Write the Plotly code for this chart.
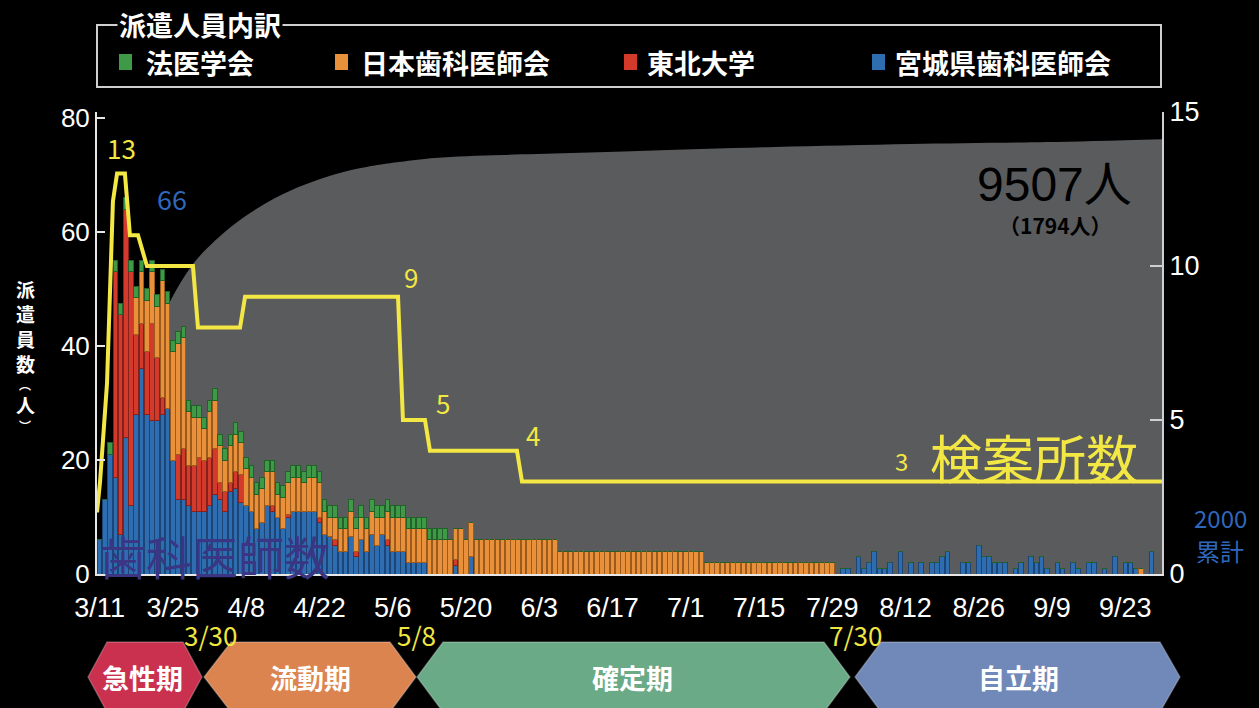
import plotly.graph_objects as go
import pandas as pd

# ---------------- data ----------------
dates = pd.date_range("2011-03-11", periods=203, freq="D")   # 3/11 ... 9/29

# 宮城県歯科医師会 (blue)
blue = [
    6, 13, 21, 17, 7, 24, 12, 28, 36, 28,
    27, 27, 28, 29, 20, 13, 13, 12, 11, 11,
    11, 12, 14, 13, 11, 14.5, 15, 12.5, 12, 11,
    8, 9, 12, 11, 10, 8, 10, 11, 11, 11,
    11, 11, 9, 7, 6.5, 5, 4, 4, 6.5, 3,
    6, 4, 7, 5, 7, 5, 4, 4, 4, 2,
    2, 2, 2, 0, 0, 0, 0, 0, 1.5, 0,
    0, 3, 0, 0, 0, 0, 0, 0, 0, 0,
    0, 0, 0, 0, 0, 0, 0, 0, 0, 0,
    0, 0, 0, 0, 0, 0, 0, 0, 0, 0,
    0, 0, 0, 0, 0, 0, 0, 0, 0, 0,
    0, 0, 0, 0, 0, 0, 0, 0, 0, 0,
    0, 0, 0, 0, 0, 0, 0, 0, 0, 0,
    0, 0, 0, 0, 0, 0, 0, 0, 0, 0,
    0, 0, 1, 1, 0, 3, 1, 2, 4, 1,
    1, 2, 0, 4, 0, 2, 0, 2, 0, 2,
    2, 3, 4, 0, 0, 2, 2, 0, 5, 3,
    3, 2, 2, 2, 0, 1, 2, 0, 3, 2,
    3, 1, 0, 2, 1, 0, 2, 1, 0, 2,
    2, 0, 1, 0, 3, 0, 2, 2, 1, 0,
    0, 4, 0,
]
# 東北大学 (red)
red = [
    0, 0, 0, 36, 38.5, 40, 41, 14, 8, 11,
    17, 11, 3, 0, 0, 8, 9, 7, 8, 9.5,
    9, 8.5, 8, 3, 3.5, 1.5, 3, 5, 0, 0,
    0, 0, 0, 1, 0, 0, 0.5, 0, 0, 0,
    0, 0, 1, 0, 0, 1, 0, 0, 0, 1,
    0, 0, 0, 0, 0, 1, 0, 0, 0, 0,
    0, 0, 0, 0, 0, 0, 0, 0, 1, 0,
    0, 0, 0, 0, 0, 0, 0, 0, 0, 0,
    0, 0, 0, 0, 0, 0, 0, 0, 0, 0,
    0, 0, 0, 0, 0, 0, 0, 0, 0, 0,
    0, 0, 0, 0, 0, 0, 0, 0, 0, 0,
    0, 0, 0, 0, 0, 0, 0, 0, 0, 0,
    0, 0, 0, 0, 0, 0, 0, 0, 0, 0,
    0, 0, 0, 0, 0, 0, 0, 0, 0, 0,
    0, 0, 0, 0, 0, 0, 0, 0, 0, 0,
    0, 0, 0, 0, 0, 0, 0, 0, 0, 0,
    0, 0, 0, 0, 0, 0, 0, 0, 0, 0,
    0, 0, 0, 0, 0, 0, 0, 0, 0, 0,
    0, 0, 0, 0, 0, 0, 0, 0, 0, 0,
    0, 0, 0, 0, 0, 0, 0, 0, 0, 0,
    0, 0, 0,
]
# 日本歯科医師会 (orange)
orange = [
    0, 0, 0, 0, 0, 0, 0, 6.5, 9, 9,
    9, 9, 20.5, 18.5, 19, 19.5, 19.5, 9.5, 8.5, 7,
    5.5, 8, 8.5, 6.5, 5.5, 6.5, 6.5, 5.5, 6.5, 6,
    6, 6, 6, 6, 4, 5.5, 5.5, 6, 6, 5,
    6, 6, 6, 4, 3.5, 4, 4, 4, 4.5, 4,
    4, 4, 4, 5, 3, 5, 6, 6, 6, 6,
    6, 6, 6, 6, 6, 6, 6, 6, 5.5, 8,
    6, 6, 6, 6, 6, 6, 6, 6, 6, 6,
    6, 6, 6, 6, 6, 6, 6, 6, 4, 4,
    4, 4, 4, 4, 4, 4, 4, 4, 4, 4,
    4, 4, 4, 4, 4, 4, 4, 4, 4, 4,
    4, 4, 4, 4, 4, 4, 2, 2, 2, 2,
    2, 2, 2, 2, 2, 2, 2, 2, 2, 2,
    2, 2, 2, 2, 2, 2, 2, 2, 2, 2,
    2, 0, 0, 0, 0, 0, 0, 0, 0, 0,
    0, 0, 0, 0, 0, 0, 0, 0, 0, 0,
    0, 0, 0, 0, 0, 0, 0, 0, 0, 0,
    0, 0, 0, 0, 0, 0, 0, 0, 0, 0,
    0, 0, 0, 0, 0, 0, 0, 0, 0, 0,
    0, 0, 0, 0, 0, 0, 0, 0, 0, 1,
    0, 0, 0,
]
# 法医学会 (green)
green = [
    0, 0, 2, 2, 2, 2, 2, 2, 2, 2,
    2, 2, 2, 2, 2, 2, 2, 2, 2, 2,
    2, 2, 2, 2, 2, 2, 2, 2, 2, 2,
    2, 2, 2, 2, 2, 2, 2, 2, 2, 2,
    2, 2, 2, 2, 2, 2, 2, 2, 2, 2,
    2, 2, 2, 2, 2, 2, 2, 2, 2, 2,
    2, 2, 2, 2, 2, 2, 2, 0, 0, 0,
    0, 0, 0, 0, 0, 0, 0, 0, 0, 0,
    0, 0, 0, 0, 0, 0, 0, 0, 0, 0,
    0, 0, 0, 0, 0, 0, 0, 0, 0, 0,
    0, 0, 0, 0, 0, 0, 0, 0, 0, 0,
    0, 0, 0, 0, 0, 0, 0, 0, 0, 0,
    0, 0, 0, 0, 0, 0, 0, 0, 0, 0,
    0, 0, 0, 0, 0, 0, 0, 0, 0, 0,
    0, 0, 0, 0, 0, 0, 0, 0, 0, 0,
    0, 0, 0, 0, 0, 0, 0, 0, 0, 0,
    0, 0, 0, 0, 0, 0, 0, 0, 0, 0,
    0, 0, 0, 0, 0, 0, 0, 0, 0, 0,
    0, 0, 0, 0, 0, 0, 0, 0, 0, 0,
    0, 0, 0, 0, 0, 0, 0, 0, 0, 0,
    0, 0, 0,
]

# 累計 (gray area)
cum_dates = ["2011-03-11", "2011-03-13", "2011-03-15", "2011-03-17", "2011-03-19",
             "2011-03-21", "2011-03-24", "2011-03-29", "2011-04-05", "2011-04-12",
             "2011-04-18", "2011-04-25", "2011-05-01", "2011-05-14", "2011-05-27",
             "2011-06-22", "2011-07-18", "2011-08-13", "2011-09-08", "2011-09-30"]
cum_vals = [0, 900, 2000, 3100, 4100, 4900, 5850, 6800, 7580, 8120,
            8460, 8740, 8900, 9094, 9160, 9248, 9334, 9400, 9444, 9507]

# 検案所数 (yellow line)
site_dates = ["2011-03-10 12:00", "2011-03-11 02:00", "2011-03-12 10:00", "2011-03-13 09:00",
              "2011-03-13 13:00", "2011-03-14 08:00", "2011-03-15 20:00", "2011-03-16 19:00",
              "2011-03-18 08:00", "2011-03-20 01:00", "2011-03-28 20:00", "2011-03-29 19:00",
              "2011-04-06 20:00", "2011-04-07 19:00", "2011-05-07 00:30", "2011-05-07 23:00",
              "2011-05-12 04:00", "2011-05-13 03:00", "2011-05-29 18:00", "2011-05-30 17:00",
              "2011-09-30 00:00"]
site_vals = [2, 3, 6.2, 10.5, 12.1, 13, 13, 11, 11, 10, 10, 8, 8, 9, 9, 5, 5, 4, 4, 3, 3]

series_names = ["宮城県歯科医師会", "東北大学", "日本歯科医師会", "法医学会"]
series_colors = ["#2e6db0", "#d33a2b", "#e8913a", "#3f9a48"]
series_edges = ["#1b4576", "#85201a", "#9c5a1c", "#22622a"]

phase_names = ["急性期", "流動期", "確定期", "自立期"]
phase_colors = ["#c9314e", "#db8450", "#6aaa86", "#7089b8"]
phase_bounds = ["3/30", "5/8", "7/30"]

# ---------------- layout helpers (pixel -> paper) ----------------
L, R, T, B = 97, 1162, 112, 574
def px(x):
    return (x - L) / (R - L)
def py(y):
    return (B - y) / (B - T)

fig = go.Figure()

fig.add_trace(go.Scatter(x=cum_dates, y=cum_vals, mode="lines", fill="tozeroy",
                         line=dict(width=0, shape="spline", smoothing=0.9),
                         fillcolor="#5a5b5d", yaxis="y", name="累計", hoverinfo="skip"))

for vals, nm, col, edge in zip([blue, red, orange, green], series_names, series_colors, series_edges):
    fig.add_trace(go.Bar(x=dates, y=vals, name=nm, marker=dict(color=col, line=dict(color=edge, width=1)),
                         yaxis="y2"))

fig.add_trace(go.Scatter(x=site_dates, y=site_vals, mode="lines", name="検案所数",
                         line=dict(color="#f3e843", width=4), yaxis="y3"))

JP = "Noto Sans CJK JP"
NUM = "Liberation Sans, Arial, sans-serif"

fig.update_layout(
    width=1259, height=708,
    margin=dict(l=L, r=1259 - R, t=T, b=708 - B, pad=0),
    paper_bgcolor="black", plot_bgcolor="black",
    barmode="stack", bargap=0.12, showlegend=False,
    xaxis=dict(type="date", range=["2011-03-10 12:00", "2011-09-30 00:00"],
               tick0="2011-03-11", dtick=14 * 86400000, tickformat="%-m/%-d",
               showgrid=False, zeroline=False, showline=True, linecolor="#e6e6e6", linewidth=2,
               ticks="", tickfont=dict(color="white", size=27, family=NUM),
               ticklabelstandoff=9),
    yaxis=dict(range=[0, 10100], visible=False, showgrid=False),
    yaxis2=dict(range=[0, 81.05], overlaying="y", side="left", tickvals=[0, 20, 40, 60, 80],
                showgrid=False, zeroline=False, showline=True, linecolor="#e6e6e6", linewidth=2,
                ticks="inside", ticklen=8, tickcolor="#e6e6e6", tickwidth=2,
                tickfont=dict(color="white", size=26, family=NUM)),
    yaxis3=dict(range=[0, 15], overlaying="y", side="right", tickvals=[0, 5, 10, 15],
                showgrid=False, zeroline=False, showline=True, linecolor="#d0d0d0", linewidth=2,
                ticks="inside", ticklen=12, tickcolor="#d0d0d0", tickwidth=2,
                tickfont=dict(color="white", size=27, family=NUM)),
)

shapes = []
ann = []

def text(x, y, s, size, color, family=JP, weight="normal", xanchor="center", **kw):
    ann.append(dict(x=px(x), y=py(y), xref="paper", yref="paper", text=s, showarrow=False,
                    xanchor=xanchor, yanchor="middle",
                    font=dict(size=size, color=color, family=family, weight=weight), **kw))

# legend box
shapes.append(dict(type="rect", xref="paper", yref="paper", x0=px(97), x1=px(1161), y0=py(25), y1=py(87),
                   line=dict(color="#cfcfcf", width=2), fillcolor="rgba(0,0,0,0)", layer="above"))
text(200, 24, "派遣人員内訳", 27, "white", weight="bold", bgcolor="black", borderpad=1)
leg_x = [(119, 144), (335, 359), (624, 645), (872, 893)]
leg_items = ["法医学会", "日本歯科医師会", "東北大学", "宮城県歯科医師会"]
leg_cols = ["#3f9a48", "#e8913a", "#d33a2b", "#2e6db0"]
for (sx, tx), nm, col in zip(leg_x, leg_items, leg_cols):
    shapes.append(dict(type="rect", xref="paper", yref="paper", x0=px(sx), x1=px(sx + 13),
                       y0=py(54), y1=py(70), fillcolor=col, line=dict(width=0)))
    text(tx, 62, nm, 27, "white", weight="bold", xanchor="left")

# 9507人 box
shapes.append(dict(type="rect", xref="paper", yref="paper", x0=px(963), x1=px(1145), y0=py(153), y1=py(235),
                   fillcolor="#67686a", line=dict(width=0), layer="below"))
text(1054, 184, "9507人", 48, "black", family="Liberation Sans, Noto Sans CJK JP", borderpad=0)
text(1055, 225, "（1794人）", 21, "black", weight="bold", borderpad=0)

# chart texts
text(215, 555, "歯科医師数", 46, "#3a3684")
text(1034, 456, "検案所数", 52, "#f3e843")
text(121, 147, "13", 26, "#f3e843")
text(172, 198, "66", 27, "#2f67bb")
text(411, 276, "9", 26, "#f3e843")
text(443, 402, "5", 26, "#f3e843")
text(533, 434, "4", 26, "#f3e843")
text(901, 460, "3", 24, "#f3e843")
text(1220, 517, "2000", 24, "#2f67bb", borderpad=0)
text(1220, 550, "累計", 24, "#2f67bb", borderpad=0)

# vertical axis title (upright characters stacked)
vchars = [("派", 288, 19), ("遣", 313, 19), ("員", 338, 19), ("数", 363, 19),
          ("︵", 384, 12), ("人", 404, 19), ("︶", 425, 12)]
for ch, yy, sz in vchars:
    text(25, yy, ch, sz, "white", weight="bold", borderpad=0)

# phase hexagons
hexes = [
    [(88, 677), (107, 642), (183, 642), (202, 677), (183, 712), (107, 712)],
    [(204, 677), (231, 642), (390, 642), (416, 677), (390, 712), (231, 712)],
    [(417, 677), (443, 642), (824, 642), (850, 677), (824, 712), (443, 712)],
    [(855, 677), (881, 642), (1160, 642), (1180, 677), (1160, 712), (881, 712)],
]
centers = [142, 310, 632, 1018]
for pts, col, nm, cx in zip(hexes, phase_colors, phase_names, centers):
    path = "M " + " L ".join(f"{px(x):.5f},{py(y):.5f}" for x, y in pts) + " Z"
    shapes.append(dict(type="path", xref="paper", yref="paper", path=path, fillcolor=col,
                       line=dict(color="rgba(255,255,255,0.25)", width=1.5)))
    text(cx, 677, nm, 27, "white", weight="bold")

for lbl, cx in zip(phase_bounds, [210, 416, 855]):
    text(cx, 634, lbl, 26, "#f0e640", borderpad=0)

fig.update_layout(shapes=shapes, annotations=ann)
fig.write_html("out.html")
